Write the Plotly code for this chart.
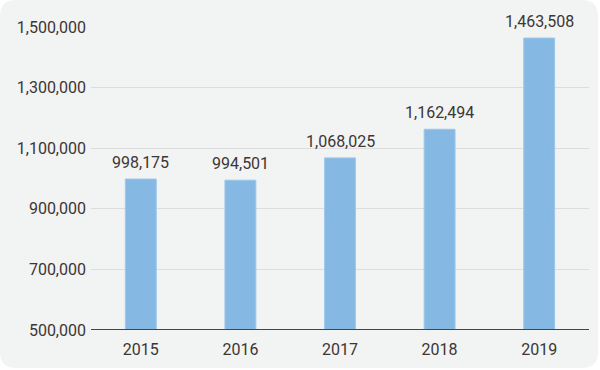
import plotly.graph_objects as go

years = ["2015", "2016", "2017", "2018", "2019"]
values = [998175, 994501, 1068025, 1162494, 1463508]
y_ticks = [500000, 700000, 900000, 1100000, 1300000, 1500000]

W, H = 600, 370
ML, MR, MT, MB = 91, 11, 27, 40
PW, PH = W - ML - MR, H - MT - MB

def px(x):
    return (x - ML) / PW

def py(y):
    return (H - MB - y) / PH

def rounded_rect(x0, y0, x1, y1, r):
    return (f"M {px(x0 + r)},{py(y0)} L {px(x1 - r)},{py(y0)} "
            f"Q {px(x1)},{py(y0)} {px(x1)},{py(y0 + r)} "
            f"L {px(x1)},{py(y1 - r)} Q {px(x1)},{py(y1)} {px(x1 - r)},{py(y1)} "
            f"L {px(x0 + r)},{py(y1)} Q {px(x0)},{py(y1)} {px(x0)},{py(y1 - r)} "
            f"L {px(x0)},{py(y0 + r)} Q {px(x0)},{py(y0)} {px(x0 + r)},{py(y0)} Z")

text_color = "#3c3634"
font = dict(family="Roboto", size=16, color=text_color)

fig = go.Figure(
    go.Bar(
        x=years,
        y=values,
        width=0.31,
        marker=dict(color="#85b9e3", line=dict(color="#9cc7ea", width=1)),
        cliponaxis=False,
        hoverinfo="skip",
    )
)

for i, v in enumerate(values):
    fig.add_annotation(
        x=i, y=v, text=f"{v:,}", showarrow=False,
        yanchor="bottom", yshift=5, font=font,
    )

fig.update_layout(
    width=W,
    height=H,
    margin=dict(l=ML, r=MR, t=MT, b=MB),
    paper_bgcolor="white",
    plot_bgcolor="rgba(0,0,0,0)",
    showlegend=False,
    shapes=[
        dict(
            type="path",
            xref="paper",
            yref="paper",
            path=rounded_rect(0, 0, 598, 368, 16),
            fillcolor="#f2f3f3",
            line=dict(width=0),
            layer="below",
        )
    ],
    xaxis=dict(
        type="category",
        range=[-0.5, 4.5],
        showgrid=False,
        showline=False,
        ticks="",
        ticklabelstandoff=8,
        tickfont=font,
    ),
    yaxis=dict(
        range=[500000, 1500000],
        tickvals=y_ticks,
        tickformat=",",
        showgrid=True,
        gridcolor="#dddddd",
        gridwidth=1,
        zeroline=False,
        showline=False,
        ticks="",
        ticklabelstandoff=4,
        tickfont=font,
    ),
)

fig.add_hline(y=500000, line=dict(color="#4a4442", width=2), layer="above")

fig.write_html(
    "out.html",
    config={"displayModeBar": False},
    post_script="document.body.style.margin='0';",
)
